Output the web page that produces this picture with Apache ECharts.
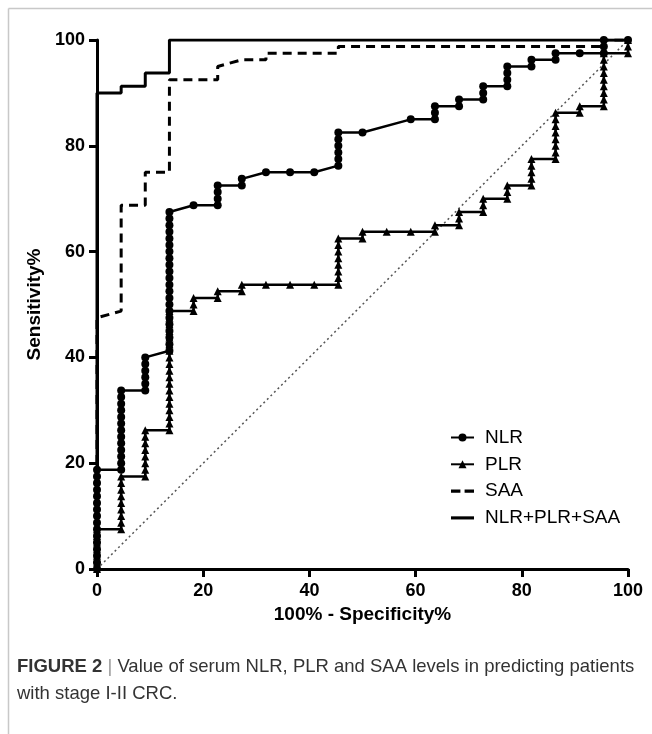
<!DOCTYPE html>
<html>
<head>
<meta charset="utf-8">
<script src="https://cdn.jsdelivr.net/npm/echarts@6/dist/echarts.min.js"></script>
<style>
html,body{margin:0;padding:0;background:#fff;}
#c{width:652px;height:734px;}
</style>
</head>
<body>
<div id="c"></div>
<script>
// x = 100% - Specificity%, y = Sensitivity%
var nlrPoints = [
  [0,0],[0,1.25],[0,2.5],[0,3.75],[0,5],[0,6.25],[0,7.5],[0,8.75],[0,10],[0,11.25],[0,12.5],[0,13.75],[0,15],[0,16.25],[0,17.5],[0,18.75],
  [4.55,18.75],[4.55,20],[4.55,21.25],[4.55,22.5],[4.55,23.75],[4.55,25],[4.55,26.25],[4.55,27.5],[4.55,28.75],[4.55,30],[4.55,31.25],[4.55,32.5],[4.55,33.75],
  [9.09,33.75],[9.09,35],[9.09,36.25],[9.09,37.5],[9.09,38.75],[9.09,40],
  [13.64,41.25],[13.64,42.5],[13.64,43.75],[13.64,45],[13.64,46.25],[13.64,47.5],[13.64,48.75],[13.64,50],[13.64,51.25],[13.64,52.5],[13.64,53.75],[13.64,55],[13.64,56.25],[13.64,57.5],[13.64,58.75],[13.64,60],[13.64,61.25],[13.64,62.5],[13.64,63.75],[13.64,65],[13.64,66.25],[13.64,67.5],
  [18.18,68.75],
  [22.73,68.75],[22.73,70],[22.73,71.25],[22.73,72.5],
  [27.27,72.5],[27.27,73.75],
  [31.82,75],[36.36,75],[40.91,75],
  [45.45,76.25],[45.45,77.5],[45.45,78.75],[45.45,80],[45.45,81.25],[45.45,82.5],
  [50,82.5],
  [59.09,85],
  [63.64,85],[63.64,86.25],[63.64,87.5],
  [68.18,87.5],[68.18,88.75],
  [72.73,88.75],[72.73,90],[72.73,91.25],
  [77.27,91.25],[77.27,92.5],[77.27,93.75],[77.27,95],
  [81.82,95],[81.82,96.25],
  [86.36,96.25],[86.36,97.5],
  [90.91,97.5],
  [95.45,97.5],[95.45,98.75],[95.45,100],
  [100,100]
];
var plrPoints = [
  [0,0],[0,1.25],[0,2.5],[0,3.75],[0,5],[0,6.25],[0,7.5],
  [4.55,7.5],[4.55,8.75],[4.55,10],[4.55,11.25],[4.55,12.5],[4.55,13.75],[4.55,15],[4.55,16.25],[4.55,17.5],
  [9.09,17.5],[9.09,18.75],[9.09,20],[9.09,21.25],[9.09,22.5],[9.09,23.75],[9.09,25],[9.09,26.25],
  [13.64,26.25],[13.64,27.5],[13.64,28.75],[13.64,30],[13.64,31.25],[13.64,32.5],[13.64,33.75],[13.64,35],[13.64,36.25],[13.64,37.5],[13.64,38.75],[13.64,40],[13.64,41.25],[13.64,42.5],[13.64,43.75],[13.64,45],[13.64,46.25],[13.64,47.5],[13.64,48.75],
  [18.18,48.75],[18.18,50],[18.18,51.25],
  [22.73,51.25],[22.73,52.5],
  [27.27,52.5],[27.27,53.75],
  [31.82,53.75],[36.36,53.75],[40.91,53.75],
  [45.45,53.75],[45.45,55],[45.45,56.25],[45.45,57.5],[45.45,58.75],[45.45,60],[45.45,61.25],[45.45,62.5],
  [50,62.5],[50,63.75],
  [54.55,63.75],[59.09,63.75],
  [63.64,63.75],[63.64,65],
  [68.18,65],[68.18,66.25],[68.18,67.5],
  [72.73,67.5],[72.73,68.75],[72.73,70],
  [77.27,70],[77.27,71.25],[77.27,72.5],
  [81.82,72.5],[81.82,73.75],[81.82,75],[81.82,76.25],[81.82,77.5],
  [86.36,77.5],[86.36,78.75],[86.36,80],[86.36,81.25],[86.36,82.5],[86.36,83.75],[86.36,85],[86.36,86.25],
  [90.91,86.25],[90.91,87.5],
  [95.45,87.5],[95.45,88.75],[95.45,90],[95.45,91.25],[95.45,92.5],[95.45,93.75],[95.45,95],[95.45,96.25],[95.45,97.5],
  [100,97.5],[100,98.75],[100,100]
];
var saaPoints = [
  [0,0],[0,47.5],[4.55,48.75],[4.55,68.75],[9.09,68.75],[9.09,75],[13.64,75],[13.64,92.5],
  [22.73,92.5],[22.73,95],[27.27,96.25],[31.82,96.25],[31.82,97.5],[45.45,97.5],[45.45,98.75],
  [95.45,98.75],[95.45,100],[100,100]
];
var comboPoints = [
  [0,0],[0,90],[4.55,90],[4.55,91.25],[9.09,91.25],[9.09,93.75],[13.64,93.75],[13.64,100],[100,100]
];
var refLine = [[0,0],[100,100]];
var xTicks = [0,20,40,60,80,100];
var yTicks = [0,20,40,60,80,100];
var seriesNames = ['NLR','PLR','SAA','NLR+PLR+SAA'];

var FONT = '"Liberation Sans", Arial, Helvetica, sans-serif';
var chart = echarts.init(document.getElementById('c'), null, {renderer:'canvas'});
var option = {
  backgroundColor: '#fff',
  animation: false,
  grid: {left: 97, right: 24, top: 40, bottom: 165, containLabel: false},
  xAxis: {
    type: 'value', min: xTicks[0], max: xTicks[xTicks.length-1], interval: 20,
    name: '100% - Specificity%', nameLocation: 'middle', nameGap: 28,
    nameTextStyle: {fontFamily: FONT, fontWeight: 'bold', fontSize: 19, color: '#000'},
    axisLine: {show: true, onZero: false, lineStyle: {color: '#000', width: 3}},
    axisTick: {show: true, length: 8, lineStyle: {color: '#000', width: 3}},
    axisLabel: {fontFamily: FONT, fontWeight: 'bold', fontSize: 18, color: '#000', margin: 13},
    splitLine: {show: false}
  },
  yAxis: {
    type: 'value', min: yTicks[0], max: yTicks[yTicks.length-1], interval: 20,
    name: 'Sensitivity%', nameLocation: 'middle', nameGap: 47,
    nameTextStyle: {fontFamily: FONT, fontWeight: 'bold', fontSize: 19, color: '#000'},
    axisLine: {show: true, onZero: false, lineStyle: {color: '#000', width: 3}},
    axisTick: {show: true, length: 8, lineStyle: {color: '#000', width: 3}},
    axisLabel: {fontFamily: FONT, fontWeight: 'bold', fontSize: 18, color: '#000', margin: 12},
    splitLine: {show: false}
  },
  legend: {
    data: [
      {name: seriesNames[0]},
      {name: seriesNames[1]},
      {name: seriesNames[2], icon: 'path://M0,0h9v3h-9zM13,0h9v3h-9z'},
      {name: seriesNames[3], icon: 'path://M0,0h22v3h-22z'}
    ],
    orient: 'vertical', left: 445, top: 423,
    itemWidth: 23, itemHeight: 10, itemGap: 7.8, symbolKeepAspect: true,
    textStyle: {fontFamily: FONT, fontSize: 19, color: '#000', padding: [0,0,0,6]},
    selectedMode: false
  },
  series: [
    {
      name: 'ref', type: 'line', data: refLine, symbol: 'none', silent: true, z: 1,
      lineStyle: {color: '#555', width: 1.5, type: [2,3]}
    },
    {
      name: seriesNames[3], type: 'line', data: comboPoints, symbol: 'none', showSymbol: false, z: 3,
      lineStyle: {color: '#000', width: 3}, itemStyle: {color: '#000'}
    },
    {
      name: seriesNames[2], type: 'line', data: saaPoints, symbol: 'none', showSymbol: false, z: 3,
      lineStyle: {color: '#000', width: 3, type: [9,6]}, itemStyle: {color: '#000'}
    },
    {
      name: seriesNames[1], type: 'line', data: plrPoints, symbol: 'triangle', symbolSize: 8, showAllSymbol: true, z: 4,
      lineStyle: {color: '#000', width: 2.5}, itemStyle: {color: '#000'}
    },
    {
      name: seriesNames[0], type: 'line', data: nlrPoints, symbol: 'circle', symbolSize: 8, showAllSymbol: true, z: 5,
      lineStyle: {color: '#000', width: 2.5}, itemStyle: {color: '#000'}
    }
  ],
  graphic: [
    {type: 'line', shape: {x1: 8.5, y1: 8.5, x2: 652, y2: 8.5}, style: {stroke: '#c8c8c8', lineWidth: 1.5}, silent: true},
    {type: 'line', shape: {x1: 8.5, y1: 8.5, x2: 8.5, y2: 734}, style: {stroke: '#c8c8c8', lineWidth: 1.5}, silent: true},
    {
      type: 'text', left: 17, top: 653,
      style: {
        text: '{b|FIGURE 2} {s||} Value of serum NLR, PLR and SAA levels in predicting patients\nwith stage I-II CRC.',
        fontFamily: FONT, fontSize: 18.5, fill: '#333', lineHeight: 27,
        rich: {
          b: {fontFamily: FONT, fontSize: 18.5, fontWeight: 'bold', fill: '#333', lineHeight: 27},
          s: {fontFamily: FONT, fontSize: 18.5, fill: '#999', lineHeight: 27}
        }
      }
    }
  ]
};
chart.setOption(option);
</script>
</body>
</html>
